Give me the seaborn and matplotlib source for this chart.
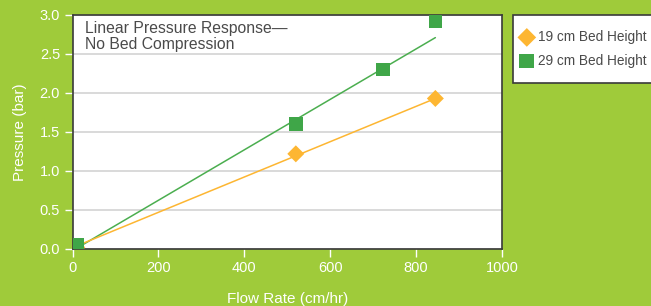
import numpy as np
import pandas as pd
import matplotlib
matplotlib.use('Agg')
import matplotlib.pyplot as plt
import matplotlib.patches as mpatches
import seaborn as sns

# dados
flow_19 = [10, 520, 845]
pressure_19 = [0.02, 1.22, 1.93]
flow_29 = [10, 520, 723, 845]
pressure_29 = [0.05, 1.60, 2.30, 2.92]

# linhas de tendência (extremos)
trend_x = [10, 845]
trend_19 = [0.04, 1.93]
trend_29 = [0.01, 2.71]

x_ticks = [0, 200, 400, 600, 800, 1000]
y_ticks = [0.0, 0.5, 1.0, 1.5, 2.0, 2.5, 3.0]

bg = '#9FCB3A'
green = '#3FA648'
orange = '#FDB632'
text_dark = '#4A4A4A'

sns.set_style('white')
plt.rcParams['font.family'] = ['Liberation Sans', 'DejaVu Sans']

df19 = pd.DataFrame({'flow': flow_19, 'pressure': pressure_19})
df29 = pd.DataFrame({'flow': flow_29, 'pressure': pressure_29})
dft = pd.DataFrame({'flow': trend_x, 't19': trend_19, 't29': trend_29})

W, H = 651, 306
fig = plt.figure(figsize=(W / 100, H / 100), dpi=100, facecolor=bg)
ax = fig.add_axes([0.1114, 0.1863, 0.6596, 0.7647])
ax.set_facecolor('white')

sns.lineplot(data=dft, x='flow', y='t29', ax=ax, color='#4BAE4F', linewidth=1.1)
sns.lineplot(data=dft, x='flow', y='t19', ax=ax, color=orange, linewidth=1.1)
sns.scatterplot(data=df19, x='flow', y='pressure', ax=ax, marker='D', s=75,
                color=orange, edgecolor='none', label='19 cm Bed Height', zorder=3)
sns.scatterplot(data=df29, x='flow', y='pressure', ax=ax, marker='s', s=95,
                color=green, edgecolor='none', label='29 cm Bed Height', zorder=4)

ax.set_xlim(0, 1000)
ax.set_ylim(0, 3.0)
ax.set_xticks(x_ticks)
ax.set_yticks(y_ticks)
ax.set_yticklabels([f'{v:.1f}' for v in y_ticks])
ax.yaxis.grid(True, color='#D3D3D3', linewidth=1.2)
ax.set_axisbelow(True)

for s in ax.spines.values():
    s.set_color('#3A3A3A')
    s.set_linewidth(1.2)

ax.tick_params(axis='both', colors='white', labelcolor='white', labelsize=10.5,
               direction='out', length=6, width=1, pad=3, left=True, bottom=True)
ax.set_xlabel('Flow Rate (cm/hr)', color='white', fontsize=11, labelpad=12)
ax.set_ylabel('Pressure (bar)', color='white', fontsize=11, labelpad=9)

ax.text(0.03, 0.975, 'Linear Pressure Response—\nNo Bed Compression', transform=ax.transAxes,
        ha='left', va='top', fontsize=11.3, color=text_dark, linespacing=1.1)

# caixa da legenda (sai pela borda direita, como no original)
box = mpatches.Rectangle((513 / W, 1 - 83 / H), 150 / W, 68 / H, transform=fig.transFigure,
                         facecolor='white', edgecolor='#3A3A3A', linewidth=1.2, zorder=0)
fig.patches.append(box)

ax.get_legend().remove()
h, l = ax.get_legend_handles_labels()
leg = fig.legend(h, l, loc='upper left', bbox_to_anchor=(520 / W, 1 - 30 / H),
                 frameon=False, fontsize=9.8, handletextpad=0.3, markerscale=1.1,
                 borderpad=0, labelspacing=0.7, handlelength=1.0, borderaxespad=0)
for t in leg.get_texts():
    t.set_color(text_dark)

fig.savefig('out.png', dpi=100, facecolor=bg)
